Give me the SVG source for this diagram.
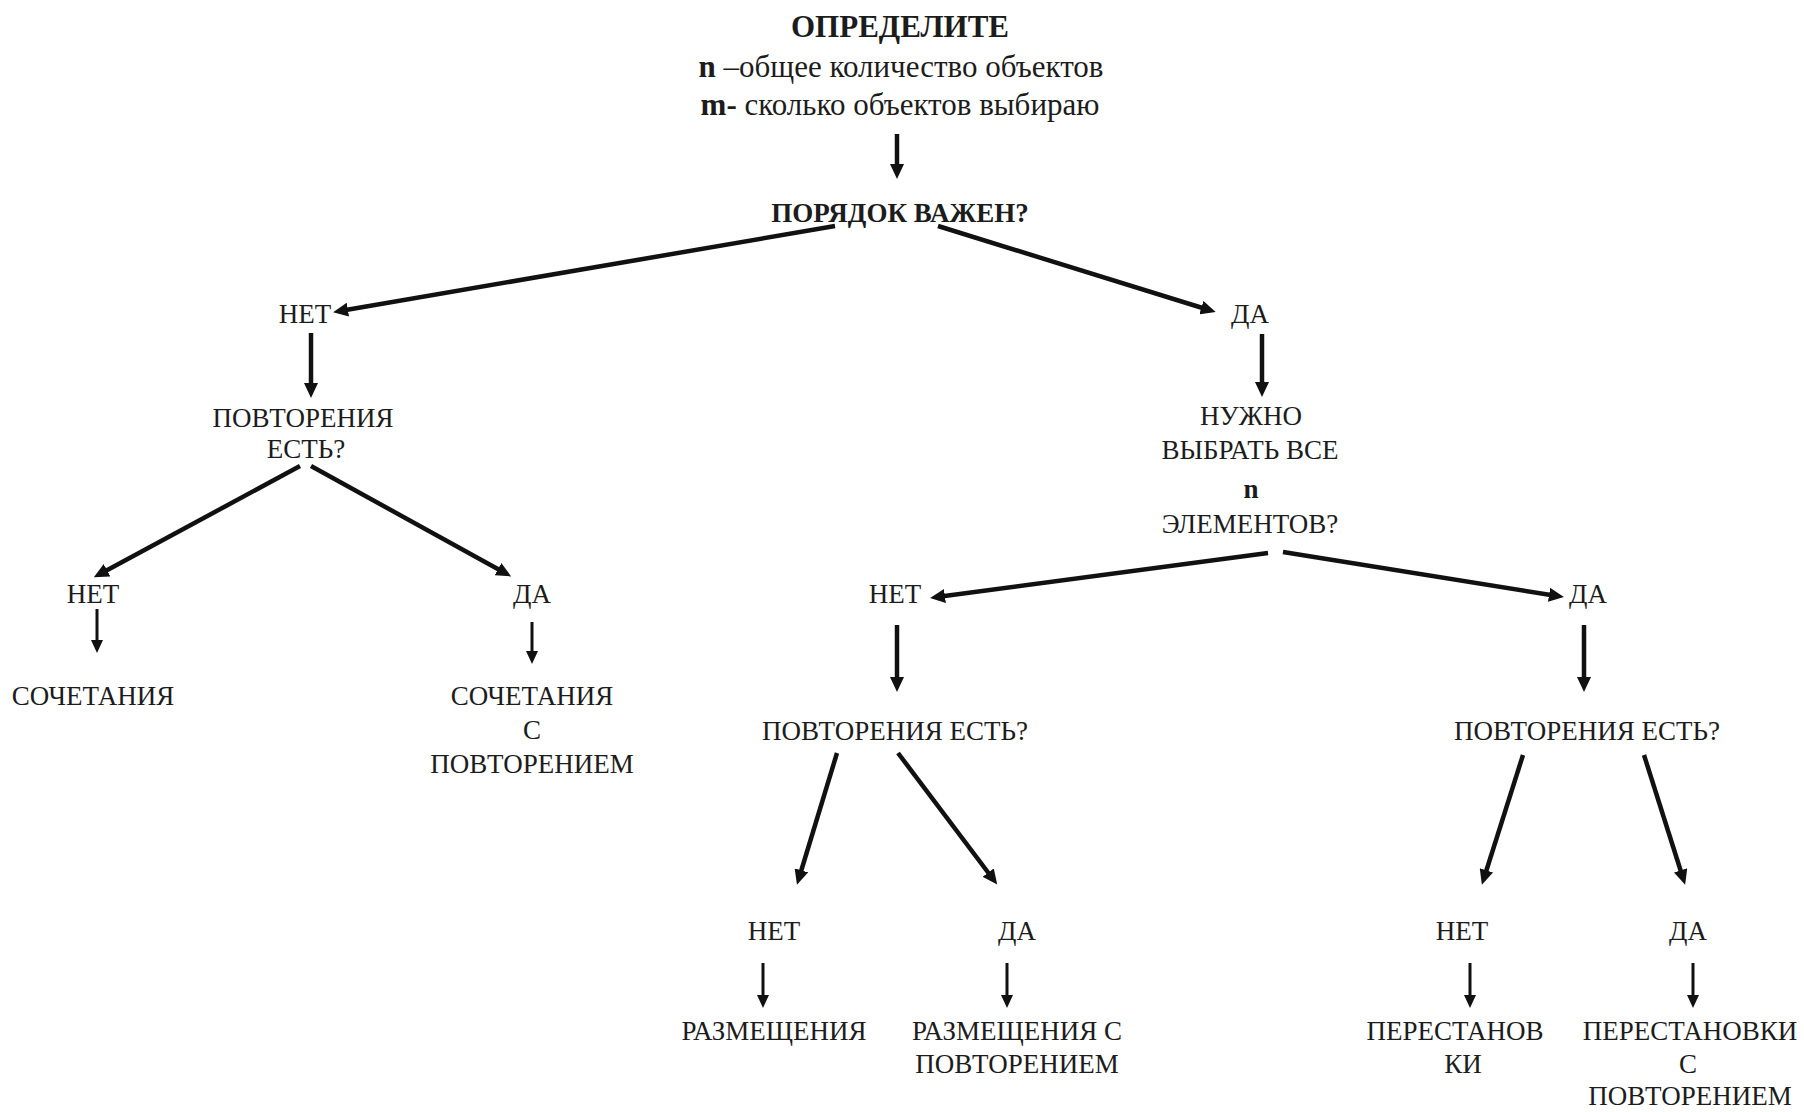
<svg xmlns="http://www.w3.org/2000/svg" width="1804" height="1112" viewBox="0 0 1804 1112">
<style>
  text { font-family: "Liberation Serif", "Times New Roman", serif; fill: #1c1c1c; text-anchor: middle; }
  .lbl { font-size: 27px; }
  .ttl { font-size: 31px; font-weight: bold; }
  .sub { font-size: 31px; }
  .b { font-weight: bold; }
  .q { font-size: 27px; font-weight: bold; }
  .ln { stroke: #111; stroke-width: 4.5; fill: none; marker-end: url(#ah); }
  .sm { stroke: #111; stroke-width: 3; fill: none; marker-end: url(#ahs); }
</style>
<defs>
  <marker id="ah" markerUnits="userSpaceOnUse" markerWidth="16" markerHeight="14" refX="8" refY="7" orient="auto">
    <path d="M0,0 L15,7 L0,14 z" fill="#111"/>
  </marker>
  <marker id="ahs" markerUnits="userSpaceOnUse" markerWidth="13" markerHeight="12" refX="6" refY="6" orient="auto">
    <path d="M0,0 L13,6 L0,12 z" fill="#111"/>
  </marker>
</defs>
<rect width="1804" height="1112" fill="#ffffff"/>

<g id="connectors">
  <line class="ln" x1="897" y1="134" x2="897" y2="172"/>
  <line class="ln" x1="835" y1="226" x2="340" y2="311"/>
  <line class="ln" x1="938" y1="226" x2="1209" y2="310"/>
  <line class="ln" x1="311" y1="333" x2="311" y2="391"/>
  <line class="ln" x1="300" y1="466" x2="100" y2="574"/>
  <line class="ln" x1="311" y1="466" x2="505" y2="573"/>
  <line class="sm" x1="97" y1="609" x2="97" y2="646"/>
  <line class="sm" x1="532" y1="622" x2="532" y2="657"/>
  <line class="ln" x1="1262" y1="334" x2="1262" y2="390"/>
  <line class="ln" x1="1268" y1="553" x2="937" y2="597"/>
  <line class="ln" x1="1283" y1="552" x2="1557" y2="596"/>
  <line class="ln" x1="897" y1="625" x2="897" y2="685"/>
  <line class="ln" x1="1584" y1="625" x2="1584" y2="685"/>
  <line class="ln" x1="837" y1="753" x2="799" y2="878"/>
  <line class="ln" x1="898" y1="753" x2="993" y2="879"/>
  <line class="ln" x1="1523" y1="755" x2="1484" y2="878"/>
  <line class="ln" x1="1644" y1="755" x2="1683" y2="878"/>
  <line class="sm" x1="763" y1="963" x2="763" y2="1001"/>
  <line class="sm" x1="1007" y1="963" x2="1007" y2="1001"/>
  <line class="sm" x1="1470" y1="963" x2="1470" y2="1001"/>
  <line class="sm" x1="1693" y1="963" x2="1693" y2="1001"/>
</g>

<g id="n-start">
  <text class="ttl" x="900" y="37">ОПРЕДЕЛИТЕ</text>
  <text class="sub" x="901" y="77"><tspan class="b">n</tspan> –общее количество объектов</text>
  <text class="sub" x="900" y="115"><tspan class="b">m-</tspan> сколько объектов выбираю</text>
</g>
<g id="n-order"><text class="q" x="900" y="222">ПОРЯДОК ВАЖЕН?</text></g>

<g id="n-no1"><text class="lbl" x="305" y="323">НЕТ</text></g>
<g id="n-yes1"><text class="lbl" x="1250" y="323">ДА</text></g>

<g id="n-rep1">
  <text class="lbl" x="303" y="427">ПОВТОРЕНИЯ</text>
  <text class="lbl" x="306" y="458">ЕСТЬ?</text>
</g>
<g id="n-no2"><text class="lbl" x="93" y="603">НЕТ</text></g>
<g id="n-yes2"><text class="lbl" x="532" y="603">ДА</text></g>
<g id="n-comb"><text class="lbl" x="93" y="705">СОЧЕТАНИЯ</text></g>
<g id="n-combrep">
  <text class="lbl" x="532" y="705">СОЧЕТАНИЯ</text>
  <text class="lbl" x="532" y="739">С</text>
  <text class="lbl" x="532" y="773">ПОВТОРЕНИЕМ</text>
</g>

<g id="n-all">
  <text class="lbl" x="1251" y="425">НУЖНО</text>
  <text class="lbl" x="1250" y="459">ВЫБРАТЬ ВСЕ</text>
  <text class="lbl b" x="1251" y="498">n</text>
  <text class="lbl" x="1250" y="533">ЭЛЕМЕНТОВ?</text>
</g>
<g id="n-no3"><text class="lbl" x="895" y="603">НЕТ</text></g>
<g id="n-yes3"><text class="lbl" x="1588" y="603">ДА</text></g>
<g id="n-rep2"><text class="lbl" x="895" y="740">ПОВТОРЕНИЯ ЕСТЬ?</text></g>
<g id="n-rep3"><text class="lbl" x="1587" y="740">ПОВТОРЕНИЯ ЕСТЬ?</text></g>

<g id="n-no4"><text class="lbl" x="774" y="940">НЕТ</text></g>
<g id="n-yes4"><text class="lbl" x="1017" y="940">ДА</text></g>
<g id="n-no5"><text class="lbl" x="1462" y="940">НЕТ</text></g>
<g id="n-yes5"><text class="lbl" x="1688" y="940">ДА</text></g>

<g id="n-arr"><text class="lbl" x="774" y="1040">РАЗМЕЩЕНИЯ</text></g>
<g id="n-arrrep">
  <text class="lbl" x="1017" y="1040">РАЗМЕЩЕНИЯ С</text>
  <text class="lbl" x="1017" y="1073">ПОВТОРЕНИЕМ</text>
</g>
<g id="n-perm">
  <text class="lbl" x="1455" y="1040">ПЕРЕСТАНОВ</text>
  <text class="lbl" x="1463" y="1073">КИ</text>
</g>
<g id="n-permrep">
  <text class="lbl" x="1690" y="1040">ПЕРЕСТАНОВКИ</text>
  <text class="lbl" x="1688" y="1073">С</text>
  <text class="lbl" x="1690" y="1105">ПОВТОРЕНИЕМ</text>
</g>
</svg>
